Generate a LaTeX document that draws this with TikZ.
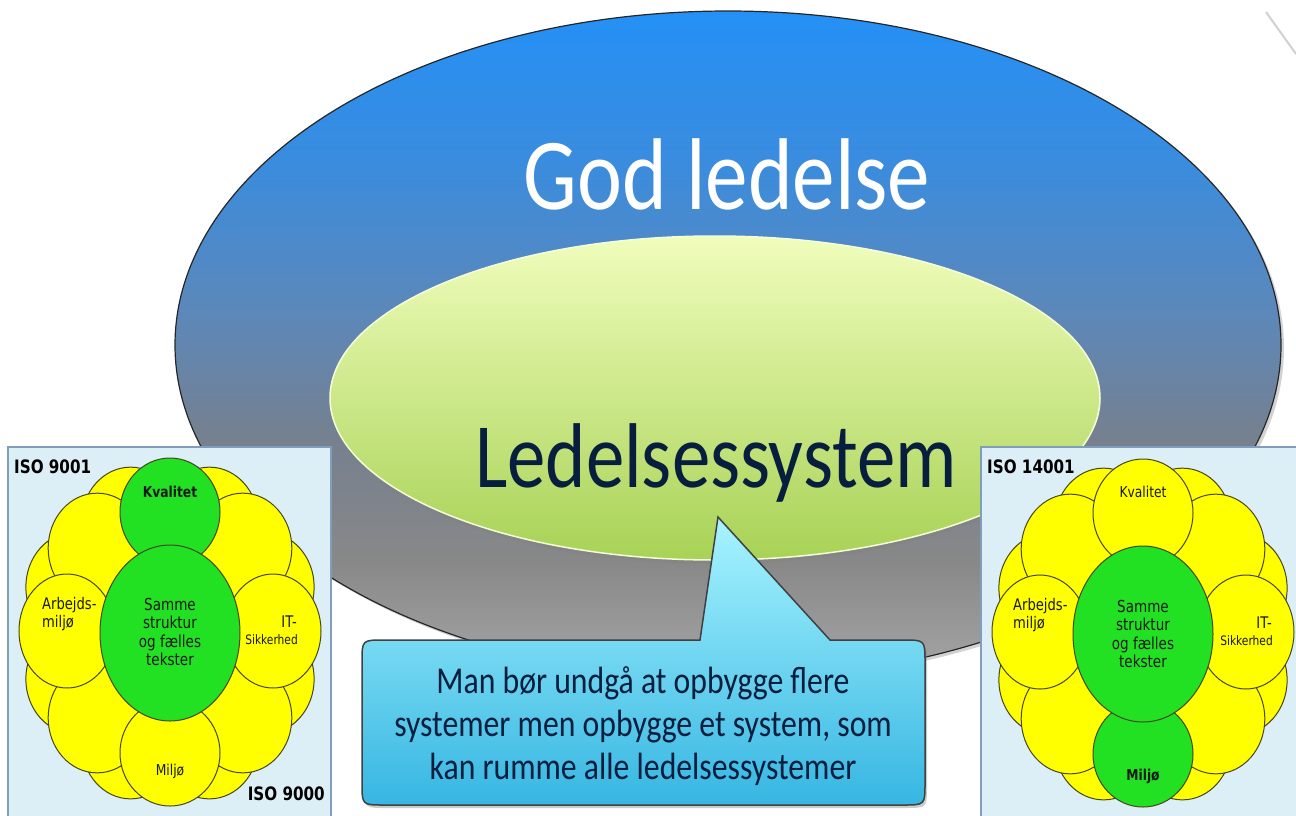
\documentclass[tikz,border=0pt]{standalone}
\usepackage{fontspec}
\usetikzlibrary{shadows}
\newfontfamily\calib[FakeStretch=0.835]{Carlito}
\newfontfamily\flw[FakeStretch=0.82]{DejaVu Sans}

\definecolor{bA}{RGB}{36,144,246}
\definecolor{bB}{RGB}{58,140,222}
\definecolor{bC}{RGB}{92,136,186}
\definecolor{gA}{RGB}{118,128,142}
\definecolor{gB}{RGB}{136,136,136}
\definecolor{gC}{RGB}{166,166,166}
\definecolor{navy}{RGB}{8,30,62}
\definecolor{petalyellow}{RGB}{255,255,0}
\definecolor{leafgreen}{RGB}{34,224,34}
\definecolor{petalline}{RGB}{70,70,30}
\definecolor{panelfill}{RGB}{220,238,246}
\definecolor{panelline}{RGB}{128,158,188}
\definecolor{limetop}{RGB}{240,253,188}
\definecolor{limebot}{RGB}{168,210,86}
\definecolor{cyantop}{RGB}{168,244,255}
\definecolor{cyanbot}{RGB}{54,182,226}

% vertical blend of the outer ellipse: blue at the top, grey at the bottom
\pgfdeclareverticalshading{outerfill}{100bp}{color(0bp)=(gC); color(25bp)=(gC);
  color(33.8bp)=(gB); color(42.8bp)=(gA); color(52.5bp)=(bC);
  color(63.8bp)=(bB); color(75bp)=(bA); color(100bp)=(bA)}

\tikzset{
  petal/.style={fill=petalyellow, draw=petalline, line width=1pt},
  core/.style={petal, fill=leafgreen},
  panel/.style={fill=panelfill, draw=panelline, line width=1.2pt},
  isolabel/.style={font=\flw\bfseries\fontsize{18.5}{20}\selectfont, text=black, inner sep=0pt},
  flowertext/.style={font=\flw\fontsize{16}{18}\selectfont, text=black!90, inner sep=0pt},
  calltext/.style={font=\calib\fontsize{38}{43}\selectfont, text=navy, inner sep=0pt, anchor=base},
}

% one flower of overlapping petals around a green core
\newcommand{\drawflower}[4]{%
  \begin{scope}[shift={(#1,#2)}]
    \foreach \a in {22.5,67.5,...,337.5}
      \path[petal] ({103*sin(\a)},{-120*cos(\a)}) ellipse [x radius=49pt, y radius=55pt];
    \foreach \a in {45,135,225,315}
      \path[petal] ({103*sin(\a)},{-120*cos(\a)}) ellipse [x radius=49pt, y radius=55pt];
    \path[petal] (-103,-2) ellipse [x radius=48pt, y radius=57pt];
    \path[petal] (103,-2) ellipse [x radius=48pt, y radius=57pt];
    \path[petal, fill=#3] (0,-121) ellipse [x radius=50pt, y radius=54pt];
    \path[petal, fill=#4] (0,120) ellipse [x radius=50pt, y radius=53pt];
    \path[core] (0,0) ellipse [x radius=70pt, y radius=88pt];
  \end{scope}}

\begin{document}
\begin{tikzpicture}[x=1pt, y=-1pt]
  \useasboundingbox (0,0) rectangle (1296,815);
  \clip (0,0) rectangle (1296,815);
  \fill[white] (0,0) rectangle (1296,815);

  % faint stroke in the upper right corner
  \draw[black!18, line width=2pt] (1266,12) -- (1296,54);

  % outer ellipse
  \path[shading=outerfill, draw=black!85, line width=1.2pt,
        drop shadow={opacity=0.35, shadow xshift=3pt, shadow yshift=-3pt}]
    (728,345) ellipse [x radius=553pt, y radius=334pt];
  \node[font=\calib\fontsize{102}{110}\selectfont, text=white, anchor=base, inner sep=0pt]
    (god) at (727,209) {God ledelse};

  % inner ellipse
  \path[top color=limetop, bottom color=limebot, draw=white!40!limetop, line width=1.5pt,
        drop shadow={opacity=0.3, shadow xshift=0pt, shadow yshift=-4pt}]
    (715,398) ellipse [x radius=385pt, y radius=162pt];
  \node[font=\calib\fontsize{92}{100}\selectfont, text=navy, anchor=base, inner sep=0pt]
    (sys) at (716,487) {Ledelsessystem};

  % speech bubble
  \path[top color=cyantop, bottom color=cyanbot, draw=black!75, line width=1.5pt,
        drop shadow={opacity=0.4, shadow xshift=2pt, shadow yshift=-3pt}]
    (718,517) -- (830,640) -- (903,640) .. controls (925,640) .. (925,662)
    -- (925,783) .. controls (925,805) .. (903,805)
    -- (384,805) .. controls (362,805) .. (362,783)
    -- (362,662) .. controls (362,640) .. (384,640) -- (700,640) -- cycle;
  \node[calltext] (call1) at (643,693) {Man bør undgå at opbygge flere};
  \node[calltext] (call2) at (643,736) {systemer men opbygge et system, som};
  \node[calltext] (call3) at (643,779) {kan rumme alle ledelsessystemer};

  % left panel
  \path[panel] (8,447) rectangle (331,840);
  \drawflower{170}{633}{leafgreen}{petalyellow}
  \node[isolabel, anchor=base west] (iso9001) at (14,473) {ISO 9001};
  \node[isolabel, anchor=base east] (iso9000) at (325,800) {ISO 9000};
  \node[flowertext, font=\flw\bfseries\fontsize{15}{17}\selectfont, anchor=base] (kvalL) at (170,497) {Kvalitet};
  \node[flowertext, align=center, anchor=center, font=\flw\fontsize{16.5}{18.3}\selectfont] (coreL) at (170,632)
    {Samme\\struktur\\og fælles\\tekster};
  \node[flowertext, align=left, anchor=base west] (arbL) at (42,627) {Arbejds-\\miljø};
  \node[flowertext, anchor=base east] (itL) at (297,627) {IT-};
  \node[flowertext, font=\flw\fontsize{13}{15}\selectfont, anchor=base east] (sikL) at (298,644) {Sikkerhed};
  \node[flowertext, font=\flw\fontsize{15}{17}\selectfont, anchor=base] (milL) at (170,775) {Miljø};

  % right panel
  \path[panel] (981,447) rectangle (1320,840);
  \drawflower{1143}{634}{petalyellow}{leafgreen}
  \node[isolabel, anchor=base west] (iso14001) at (987,473) {ISO 14001};
  \node[flowertext, font=\flw\fontsize{15}{17}\selectfont, anchor=base] (kvalR) at (1143,497) {Kvalitet};
  \node[flowertext, align=center, anchor=center, font=\flw\fontsize{16.5}{18.3}\selectfont] (coreR) at (1143,634)
    {Samme\\struktur\\og fælles\\tekster};
  \node[flowertext, align=left, anchor=base west] (arbR) at (1013,628) {Arbejds-\\miljø};
  \node[flowertext, anchor=base east] (itR) at (1272,628) {IT-};
  \node[flowertext, font=\flw\fontsize{13}{15}\selectfont, anchor=base east] (sikR) at (1273,645) {Sikkerhed};
  \node[flowertext, font=\flw\bfseries\fontsize{15}{17}\selectfont, anchor=base] (milR) at (1143,780) {Miljø};
\end{tikzpicture}
\end{document}
